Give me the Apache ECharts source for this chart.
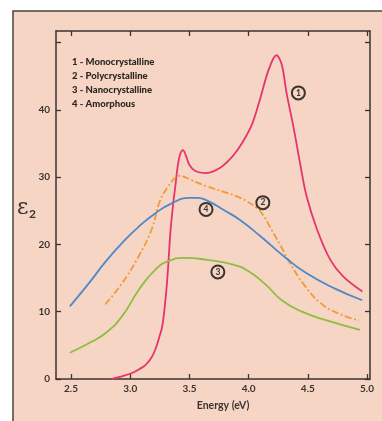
<!DOCTYPE html>
<html>
<head>
<meta charset="utf-8">
<script src="https://cdn.jsdelivr.net/npm/echarts@6/dist/echarts.min.js"></script>
<style>
html,body{margin:0;padding:0;background:#ffffff;}
#chart{width:382px;height:421px;}
</style>
</head>
<body>
<div id="chart"></div>
<script>
// ---- data (energy in eV, epsilon_2) ----
const monoE   = [2.84,2.95,3.01,3.08,3.13,3.18,3.21,3.25,3.27,3.29,3.31,3.325,3.34,3.365,3.38,3.40,3.42,3.445,3.47,3.50,3.55,3.63,3.76,3.87,3.95,4.03,4.10,4.17,4.235,4.28,4.32,4.38,4.44,4.49,4.58,4.69,4.80,4.96];
const monoEps = [0,0.5,0.85,1.5,2.1,3.2,4.3,6.5,7.8,10.5,14.2,18,22.0,26.4,28.5,31.5,33.3,34.0,33.2,31.8,30.9,30.6,31.4,33.2,35.2,37.9,41.8,46.0,48.1,46.7,42.5,37.3,31.5,27.1,22.1,17.7,15.2,13.0];

const polyE   = [2.79,2.93,3.07,3.18,3.25,3.32,3.38,3.41,3.46,3.51,3.65,3.79,3.93,4.07,4.12,4.18,4.27,4.35,4.46,4.60,4.75,4.93];
const polyEps = [11.1,14.2,18.2,22.2,26.4,28.6,29.9,30.2,30.0,29.6,28.6,27.8,26.9,25.4,24.4,22.6,19.8,17.2,14.2,11.4,9.8,8.7];

const nanoE   = [2.49,2.65,2.79,2.93,3.07,3.21,3.32,3.46,3.65,3.87,4.0,4.14,4.28,4.45,4.66,4.94];
const nanoEps = [3.9,5.3,6.8,9.3,13.2,16.2,17.5,18.0,17.7,17.0,16.0,14.1,11.7,10.0,8.7,7.3];

const amorE   = [2.49,2.65,2.79,2.93,3.07,3.21,3.35,3.50,3.57,3.65,3.79,3.93,4.10,4.32,4.49,4.72,4.96];
const amorEps = [10.8,14.2,17.4,20.2,22.6,24.6,26.1,26.9,26.9,26.5,25.1,23.6,21.2,17.9,15.7,13.5,11.7];

const seriesNames = ['1 - Monocrystalline','2 - Polycrystalline','3 - Nanocrystalline','4 - Amorphous'];
const seriesTags  = ['1','2','3','4'];
// circled tag positions (energy, epsilon_2)
const tagE   = [4.42, 4.12, 3.74, 3.64];
const tagEps = [42.5, 26.2, 15.9, 25.2];

const xTicks = [2.5,3.0,3.5,4.0,4.5,5.0];
const yTicks = [0,10,20,30,40,50];
const yLabels = [0,10,20,30,40];

const colors = ['#e6346c','#f29a38','#8fbd41','#4f88c8'];
const pairs = (xs, ys) => xs.map((x,i)=>[x, ys[i]]);
const allData = [pairs(monoE,monoEps), pairs(polyE,polyEps), pairs(nanoE,nanoEps), pairs(amorE,amorEps)];
const smoothness = [0.35, 0.45, 0.5, 0.5];

const ink = '#3a3330';
const fontFam = 'Lato, "DejaVu Sans", sans-serif';

function axisX(pos, labels){
  return {
    type:'value', position:pos, min:2.373, max:5.025,
    axisLine:{show:true, onZero:false, lineStyle:{color:ink, width:1.5}},
    axisTick:{show:true, inside:true, length:5, customValues:xTicks, lineStyle:{color:ink, width:1.3}},
    axisLabel:{show:labels, customValues:xTicks, formatter:v=>v.toFixed(1), color:ink, fontSize:10, fontWeight:'bold', fontFamily:fontFam, margin:5},
    splitLine:{show:false}
  };
}
function axisY(pos, labels){
  return {
    type:'value', position:pos, min:0, max:51.7,
    axisLine:{show:true, onZero:false, lineStyle:{color:ink, width:1.5}},
    axisTick:{show:true, inside:true, length:5, customValues:yTicks, lineStyle:{color:ink, width:1.3}},
    axisLabel:{show:labels, customValues:yLabels, color:ink, fontSize:10, fontWeight:'bold', fontFamily:fontFam, margin:6},
    splitLine:{show:false}
  };
}

const series = allData.map((d,i)=>({
  type:'line', name:seriesNames[i], data:d, showSymbol:false, symbol:'none',
  smooth:smoothness[i], z:3,
  lineStyle:{color:colors[i], width:1.8, type: i===1 ? [7,2.5,2,2.5] : 'solid'},
  markPoint:{
    symbol:'circle', symbolSize:13, silent:true,
    itemStyle:{color:'rgba(0,0,0,0)', borderColor:ink, borderWidth:2},
    label:{show:true, position:'inside', formatter:seriesTags[i], color:ink, fontSize:8.5, fontWeight:'bold', fontFamily:fontFam},
    data:[{coord:[tagE[i], tagEps[i]]}]
  }
}));

const legendTexts = seriesNames.map((t,i)=>({
  type:'text', left:72, top:57 + i*14, z:10,
  style:{text:t, fill:'#2c2622', font:'900 9.5px ' + fontFam}
}));

const chart = echarts.init(document.getElementById('chart'), null, {renderer:'canvas'});
chart.setOption({
  backgroundColor:'#ffffff',
  animation:false,
  grid:{left:56, right:12, top:31, bottom:42, containLabel:false},
  xAxis:[axisX('bottom', true), axisX('top', false)],
  yAxis:[axisY('left', true), axisY('right', false)],
  series: series,
  graphic:[
    {type:'rect', shape:{x:13, y:11, width:400, height:430}, z:-100,
     style:{fill:'#f6d5c4', stroke:'#4a4442', lineWidth:1.5}},
    ...legendTexts,
    {type:'text', left:17, top:197, z:10, style:{text:'ε', fill:ink, font:'22px "DejaVu Serif", serif'}},
    {type:'text', left:29, top:208, z:10, style:{text:'2', fill:ink, font:'bold 12px ' + fontFam}},
    {type:'text', x:223, y:406, z:10, style:{text:'Energy (eV)', fill:ink, font:'bold 10.5px ' + fontFam, textAlign:'center', textVerticalAlign:'middle'}}
  ]
});
</script>
</body>
</html>
